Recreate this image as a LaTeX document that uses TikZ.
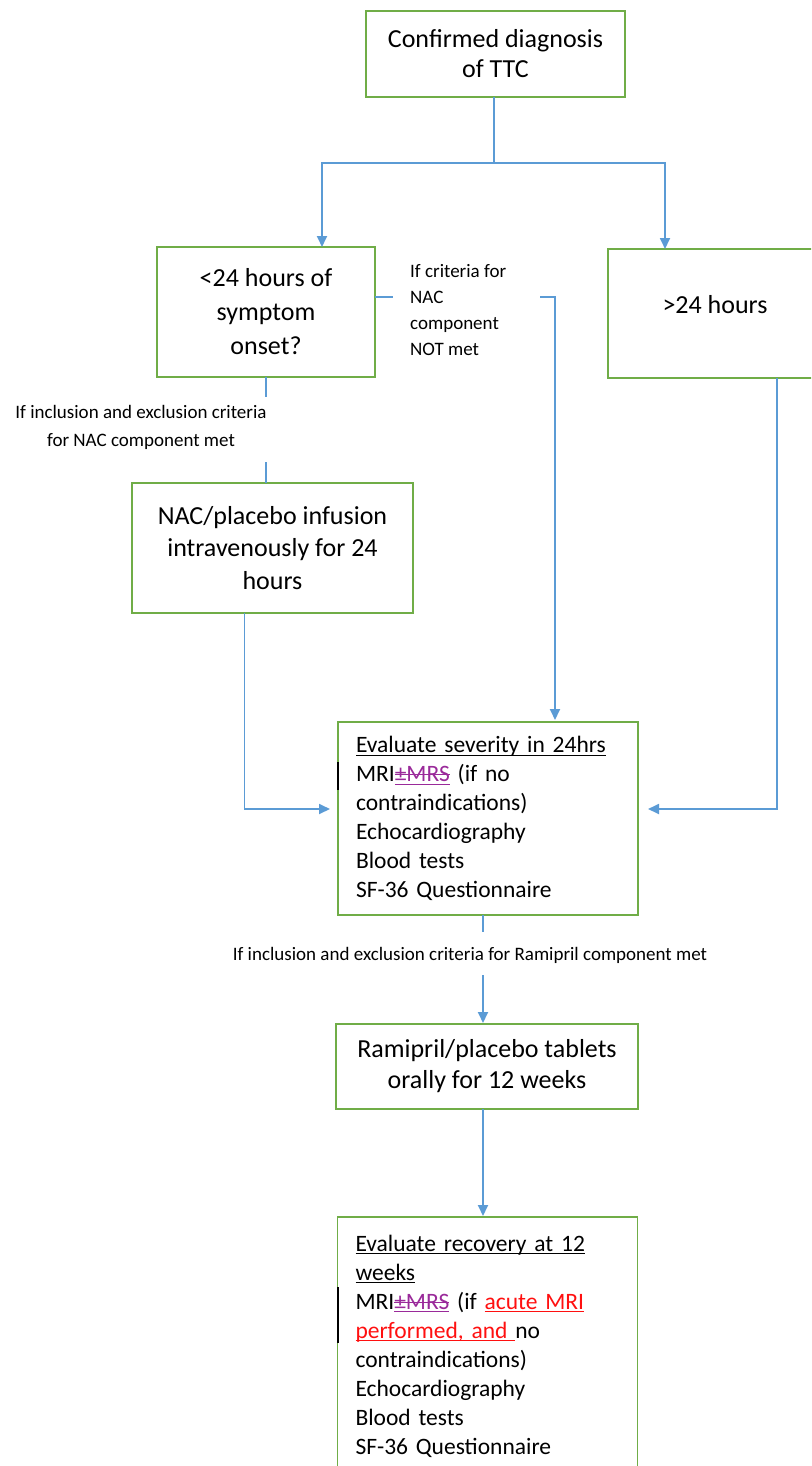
\documentclass[tikz,border=0pt]{standalone}
\usepackage{fontspec}
\setmainfont{Carlito}
\usetikzlibrary{arrows.meta}
\definecolor{boxgreen}{HTML}{70AD47}
\definecolor{lineblue}{HTML}{5B9BD5}
\definecolor{delpurple}{HTML}{9A2A9A}
\definecolor{insred}{HTML}{FF1010}
\newsavebox\mkbox
\newcommand\ulx[2][black]{\leavevmode\sbox\mkbox{#2}\rlap{\color{#1}\rule[-0.13em]{\wd\mkbox}{1pt}}\usebox\mkbox}
\newcommand\delx[1]{\leavevmode{\color{delpurple}\sbox\mkbox{#1}\rlap{\rule[-0.13em]{\wd\mkbox}{1pt}}\rlap{\rule[0.27em]{\wd\mkbox}{1pt}}\usebox\mkbox}}
\newcommand\insx[1]{\leavevmode{\color{insred}\ulx[insred]{#1}}}
\tikzset{
  flowbox/.style={draw=boxgreen, line width=1.8pt, fill=white, inner sep=0pt, outer sep=0pt, align=center},
  evalbox/.style={draw=boxgreen, line width=1.8pt, fill=white, inner xsep=18pt, inner ysep=0pt, outer sep=0pt, align=left, text width=264pt, font=\fontsize{23.5}{29}\selectfont},
  conn/.style={draw=lineblue, line width=1.8pt},
  arr/.style={conn, -{Triangle[length=11pt,width=10pt]}},
  lbl/.style={inner sep=0pt, font=\fontsize{19}{26}\selectfont},
  chbar/.style={draw=black, line width=1.5pt}
}
\begin{document}
\begin{tikzpicture}[x=1pt,y=1pt]
\useasboundingbox (0,0) rectangle (811,-1466);
\clip (0,0) rectangle (811,-1466);
% boxes
\node[flowbox, minimum width=259, minimum height=86, font=\fontsize{26}{30}\selectfont] (top) at (495.5,-54) {Confirmed diagnosis\\of TTC};
\node[flowbox, minimum width=218, minimum height=130, font=\fontsize{26}{34}\selectfont] (lt) at (266,-312) {<24 hours of\\symptom\\onset?};
\node[flowbox, minimum width=214, minimum height=129, text depth=18pt, font=\fontsize{26}{34}\selectfont] (gt) at (715,-313.5) {>24 hours};
\node[flowbox, minimum width=281, minimum height=130, font=\fontsize{26}{32.5}\selectfont] (nac) at (272.5,-548) {NAC/placebo infusion\\intravenously for 24\\hours};
\node[evalbox, minimum height=193] (ev1) at (488,-818.5) {\ulx{Evaluate severity in 24hrs}\\
MRI\delx{±MRS} (if no\\
contraindications)\\
Echocardiography\\
Blood tests\\
SF-36 Questionnaire};
\node[flowbox, minimum width=302, minimum height=85, font=\fontsize{26}{31}\selectfont] (ram) at (487,-1066.5) {Ramipril/placebo tablets\\orally for 12 weeks};
\node[evalbox, minimum height=258] (ev2) at (487.5,-1346) {\ulx{Evaluate recovery at 12}\\
\ulx{weeks}\\
MRI\delx{±MRS} (if \insx{acute MRI}\\
\insx{performed, and }no\\
contraindications)\\
Echocardiography\\
Blood tests\\
SF-36 Questionnaire};
% labels
\node[lbl, anchor=north west, align=left] (lnot) at (410,-264) {If criteria for\\NAC\\component\\NOT met};
\node[lbl, align=center, font=\fontsize{19}{28}\selectfont] (lnac) at (141,-427) {If inclusion and exclusion criteria\\for NAC component met};
\node[lbl] (lram) at (470,-955) {If inclusion and exclusion criteria for Ramipril component met};
% change bars
\coordinate (cb1a) at (338,-762); \coordinate (cb1b) at (338,-790);
\coordinate (cb2a) at (338,-1287); \coordinate (cb2b) at (338,-1343);
\draw[chbar] (cb1a) -- (cb1b);
\draw[chbar] (cb2a) -- (cb2b);
% coordinates
\coordinate (split) at (494,-163);
\coordinate (na) at (393,-297);
\coordinate (nb) at (540,-297);
\coordinate (ya) at (266,-397);
\coordinate (yb) at (266,-462);
\coordinate (ra) at (483,-932);
\coordinate (rb) at (483,-975);
% connectors
\draw[conn] (top.south -| split) -- (split);
\draw[arr] (split) -| ([xshift=56pt]lt.north);
\draw[arr] (split) -| ([xshift=-50pt]gt.north);
\draw[conn] (lt.east |- na) -- (na);
\draw[arr] (nb) -| ([xshift=67pt,yshift=2pt]ev1.north);
\draw[conn] (lt.south -| ya) -- (ya);
\draw[conn] (yb) -- (nac.north -| yb);
\draw[arr] ([xshift=-28pt]nac.south) |- ([xshift=-8pt,yshift=9.5pt]ev1.west);
\draw[arr] ([xshift=62pt]gt.south) |- ([xshift=10pt,yshift=9.5pt]ev1.east);
\draw[conn] (ev1.south -| ra) -- (ra);
\draw[arr] (rb) -- ([yshift=1pt]ram.north -| rb);
\draw[arr] (ram.south -| rb) -- ([yshift=1pt]ev2.north -| rb);
\end{tikzpicture}
\end{document}
